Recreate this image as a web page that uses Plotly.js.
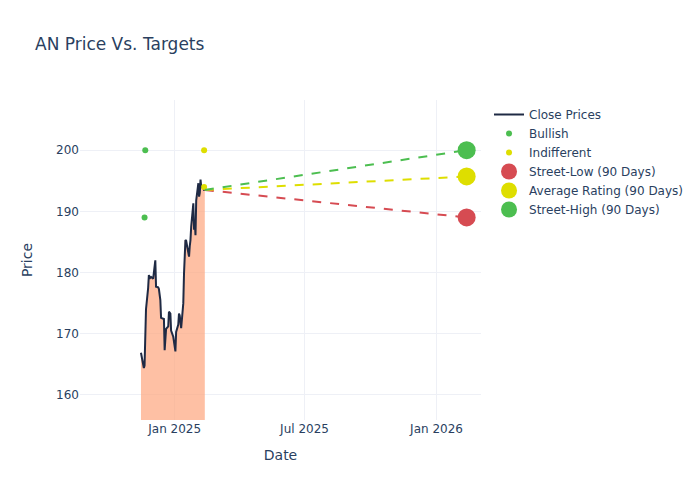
<!DOCTYPE html>
<html>
<head>
<meta charset="utf-8">
<script src="https://cdn.plot.ly/plotly-3.0.1.min.js"></script>
<style>html,body{margin:0;padding:0;}#chart{width:700px;height:500px;}</style>
</head>
<body>
<div id="chart"></div>
<script>
const dates = [
"2024-11-15","2024-11-18","2024-11-19","2024-11-20","2024-11-21","2024-11-22","2024-11-25","2024-11-26","2024-11-27","2024-11-29",
"2024-12-02","2024-12-03","2024-12-04","2024-12-05","2024-12-06","2024-12-09","2024-12-10","2024-12-11","2024-12-12","2024-12-13",
"2024-12-16","2024-12-17","2024-12-18","2024-12-19","2024-12-20","2024-12-23","2024-12-24","2024-12-26","2024-12-27","2024-12-30","2024-12-31",
"2025-01-02","2025-01-03","2025-01-06","2025-01-07","2025-01-08","2025-01-10","2025-01-13","2025-01-14","2025-01-15","2025-01-16","2025-01-17",
"2025-01-21","2025-01-22","2025-01-23","2025-01-24","2025-01-27","2025-01-28","2025-01-29","2025-01-30","2025-01-31",
"2025-02-03","2025-02-04","2025-02-05","2025-02-06","2025-02-07","2025-02-10","2025-02-11","2025-02-12"
];
const closePrices = [
166.9,164.6,164.4,164.8,170.1,174.0,177.5,179.6,179.0,179.3,
179.0,179.8,180.5,182.0,177.7,177.6,177.3,176.3,175.5,172.6,
172.4,172.4,167.3,170.3,170.8,171.2,173.6,173.3,170.5,169.5,168.9,
167.1,170.3,171.5,173.3,173.0,170.9,175.0,179.9,185.3,185.3,185.2,
182.6,184.3,185.3,187.5,191.3,187.0,188.3,186.1,191.8,
194.6,192.4,193.0,195.2,194.0,193.8,193.5,193.5
];
const bullishDates = ["2024-11-21","2024-11-20"];
const bullishPrices = [200, 189];
const indifferentDates = ["2025-02-11","2025-02-11"];
const indifferentPrices = [200, 194];
const targetDate = "2026-02-12";
const streetLow = 189;
const avgRating = 195.7;
const streetHigh = 200;
const xRange = ["2024-08-22","2026-03-04"];
const yRange = [155.9, 208.2];

const lastDate = dates[dates.length-1];
const lastPrice = closePrices[closePrices.length-1];
const green = "#4cbe50", yellow = "#dede00", red = "#d64b52";

const traces = [
  {x: dates, y: closePrices, type: "scatter", mode: "none", showlegend: false, hoverinfo: "skip",
   fill: "tozeroy", fillcolor: "rgba(253,165,125,0.7)"},
  {x: dates, y: closePrices, type: "scatter", mode: "lines", name: "Close Prices",
   line: {color: "#1f2a44", width: 2}},
  {x: bullishDates, y: bullishPrices, type: "scatter", mode: "markers", name: "Bullish",
   marker: {color: green, size: 6}},
  {x: indifferentDates, y: indifferentPrices, type: "scatter", mode: "markers", name: "Indifferent",
   marker: {color: yellow, size: 6}},
  {x: [lastDate, targetDate], y: [lastPrice, streetLow], type: "scatter", mode: "lines", showlegend: false,
   line: {color: red, width: 2, dash: "dash"}},
  {x: [lastDate, targetDate], y: [lastPrice, avgRating], type: "scatter", mode: "lines", showlegend: false,
   line: {color: yellow, width: 2, dash: "dash"}},
  {x: [lastDate, targetDate], y: [lastPrice, streetHigh], type: "scatter", mode: "lines", showlegend: false,
   line: {color: green, width: 2, dash: "dash"}},
  {x: [targetDate], y: [streetLow], type: "scatter", mode: "markers", name: "Street-Low (90 Days)",
   marker: {color: red, size: 18}},
  {x: [targetDate], y: [avgRating], type: "scatter", mode: "markers", name: "Average Rating (90 Days)",
   marker: {color: yellow, size: 18}},
  {x: [targetDate], y: [streetHigh], type: "scatter", mode: "markers", name: "Street-High (90 Days)",
   marker: {color: green, size: 18}}
];

const layout = {
  width: 700, height: 500,
  title: {text: "AN Price Vs. Targets", x: 0.05, xanchor: "left"},
  xaxis: {title: {text: "Date", standoff: 15}, type: "date", range: xRange, dtick: "M6", tickformat: "%b %Y",
          gridcolor: "#eef0f6", zeroline: false, automargin: false},
  yaxis: {title: {text: "Price", standoff: 20}, range: yRange, gridcolor: "#eef0f6", zeroline: false, automargin: false},
  plot_bgcolor: "white", paper_bgcolor: "white",
  font: {family: "DejaVu Sans, sans-serif", color: "#2a3f5f"},
  legend: {x: 1.02, y: 1}
};
Plotly.newPlot("chart", traces, layout, {displayModeBar: false});
</script>
</body>
</html>
